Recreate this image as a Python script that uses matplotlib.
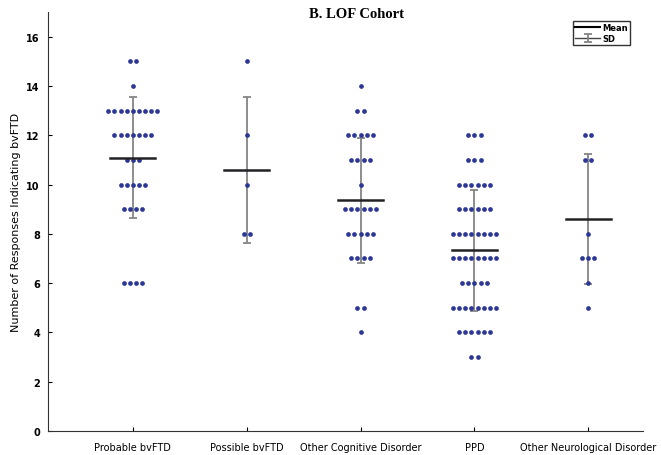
import numpy as np
import matplotlib.pyplot as plt
from matplotlib.lines import Line2D

groups = ['Probable bvFTD', 'Possible bvFTD', 'Other Cognitive Disorder',
          'PPD', 'Other Neurological Disorder']

# responses per participant, listed as (score, count)
probable = [(15, 2), (14, 1), (13, 9), (12, 7), (11, 3), (10, 5), (9, 4), (6, 4)]
possible = [(15, 1), (12, 1), (10, 1), (8, 2)]
other_cog = [(14, 1), (13, 2), (12, 5), (11, 4), (10, 1), (9, 6), (8, 5),
             (7, 4), (5, 2), (4, 1)]
ppd = [(12, 3), (11, 3), (10, 6), (9, 6), (8, 8), (7, 8), (6, 5), (5, 8),
       (4, 6), (3, 2)]
other_neuro = [(12, 2), (11, 2), (8, 1), (7, 3), (6, 1), (5, 1)]

data = [probable, possible, other_cog, ppd, other_neuro]

fig = plt.figure(figsize=(6.61, 4.56), dpi=100)
ax = fig.add_axes([0.073, 0.053, 0.90, 0.918])

dot_col = '#2d3796'
step = 0.053
eb_handles = []
for i, grp in enumerate(data):
    x0 = i + 1
    vals = np.concatenate([[s] * n for s, n in grp]).astype(float)
    # one row of dots per score, spread sideways
    for s, n in grp:
        xs = x0 + (np.arange(n) - (n - 1) / 2) * step
        ax.plot(xs, [s] * n, 'o', color=dot_col, ms=3.4, mec='none', zorder=3)
    m = vals.mean()
    sd = vals.std(ddof=1)
    eb = ax.errorbar(x0, m, yerr=sd, fmt='none', ecolor='#858585', elinewidth=1.3,
                     capsize=3, capthick=1.3, zorder=2)
    eb_handles.append(eb)
    ax.plot([x0 - 0.2, x0 + 0.2], [m, m], color='#222226', lw=1.8, zorder=4)

ax.set_xlim(0.26, 5.48)
ax.set_ylim(0, 17)
ax.set_xticks(range(1, 6))
ax.set_xticklabels(groups, fontsize=7)
ax.set_yticks(range(0, 17, 2))
ax.set_yticklabels([str(v) for v in range(0, 17, 2)], fontsize=7, fontweight='bold')
ax.tick_params(direction='in', length=3, width=0.8, pad=6)
ax.tick_params(axis='x', pad=8)
for side in ['top', 'right']:
    ax.spines[side].set_visible(False)
for side in ['left', 'bottom']:
    ax.spines[side].set_color('#333333')
ax.set_ylabel('Number of Responses Indicating bvFTD', fontsize=8)
fig.text(0.54, 0.969, 'B. LOF Cohort', fontsize=10.5, fontweight='bold',
         family='Liberation Serif', ha='center', va='center')

mean_h = Line2D([], [], color='black', lw=1.5)
sd_line = Line2D([], [], color='#444444', lw=1)
leg = ax.legend([mean_h, (sd_line, eb_handles[0])], ['Mean', 'SD'],
                loc='upper right', bbox_to_anchor=(0.985, 0.99), handlelength=3,
                handletextpad=0.2, borderpad=0.3, labelspacing=0.2,
                fancybox=False, edgecolor='#333333', framealpha=1,
                prop={'weight': 'bold', 'size': 6})

fig.savefig('out.png', dpi=100)
